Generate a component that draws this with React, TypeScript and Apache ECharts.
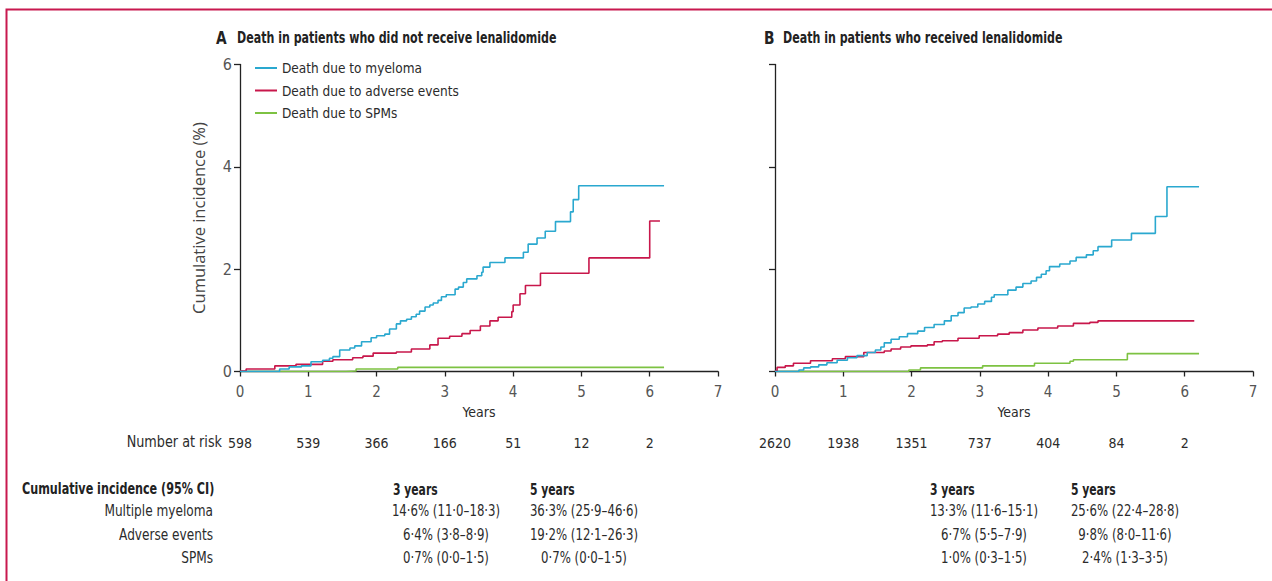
import React, { useEffect, useRef } from "react";
import * as echarts from "echarts";

// ---------- data ----------
const xTicks = [0, 1, 2, 3, 4, 5, 6, 7];
const yTicks = [0, 2, 4, 6];

const seriesNames = ["Death due to myeloma", "Death due to adverse events", "Death due to SPMs"];

// Panel A: patients who did not receive lenalidomide (step change points [years, %])
const myelomaA: [number, number][] = [
  [0, 0], [0.58, 0.05], [0.72, 0.09], [0.9, 0.11], [1.04, 0.19], [1.21, 0.22], [1.31, 0.26],
  [1.36, 0.29], [1.46, 0.42], [1.61, 0.46], [1.68, 0.5], [1.78, 0.58], [1.92, 0.66], [2.0, 0.7],
  [2.12, 0.73], [2.19, 0.83], [2.29, 0.93], [2.35, 0.99], [2.44, 1.02], [2.51, 1.07], [2.58, 1.12],
  [2.63, 1.18], [2.71, 1.26], [2.78, 1.3], [2.83, 1.34], [2.9, 1.39], [2.95, 1.46], [3.02, 1.5],
  [3.15, 1.61], [3.2, 1.65], [3.27, 1.74], [3.32, 1.81], [3.47, 1.87], [3.54, 1.94], [3.56, 2.04],
  [3.66, 2.13], [3.88, 2.22], [4.15, 2.33], [4.22, 2.49], [4.35, 2.61], [4.47, 2.74], [4.62, 2.93],
  [4.84, 3.12], [4.88, 3.36], [4.96, 3.63], [6.21, 3.63],
];
const adverseA: [number, number][] = [
  [0, 0.01], [0.09, 0.05], [0.51, 0.11], [0.82, 0.14], [1.21, 0.2], [1.36, 0.23], [1.65, 0.27],
  [1.8, 0.3], [1.95, 0.36], [2.29, 0.38], [2.51, 0.44], [2.78, 0.52], [2.9, 0.65], [3.07, 0.69],
  [3.25, 0.74], [3.37, 0.8], [3.52, 0.89], [3.66, 0.99], [3.78, 1.06], [3.98, 1.17], [4.0, 1.3],
  [4.1, 1.52], [4.18, 1.68], [4.4, 1.92], [5.11, 2.22], [6.0, 2.94], [6.15, 2.94],
];
const spmA: [number, number][] = [
  [0, 0], [1.55, 0.01], [1.7, 0.05], [2.31, 0.08], [6.21, 0.08],
];

// Panel B: patients who received lenalidomide
const myelomaB: [number, number][] = [
  [0, 0], [0.35, 0.03], [0.42, 0.07], [0.52, 0.09], [0.64, 0.13], [0.76, 0.17], [0.91, 0.22],
  [1.06, 0.27], [1.2, 0.31], [1.35, 0.37], [1.47, 0.42], [1.55, 0.48], [1.6, 0.56], [1.7, 0.63],
  [1.82, 0.68], [1.94, 0.74], [2.09, 0.79], [2.19, 0.86], [2.33, 0.92], [2.48, 0.99], [2.58, 1.09],
  [2.68, 1.15], [2.77, 1.24], [2.87, 1.26], [2.97, 1.32], [3.07, 1.37], [3.17, 1.45], [3.21, 1.5],
  [3.41, 1.59], [3.53, 1.65], [3.63, 1.72], [3.75, 1.77], [3.83, 1.84], [3.9, 1.9], [3.97, 1.97],
  [4.02, 2.05], [4.17, 2.1], [4.32, 2.16], [4.41, 2.23], [4.56, 2.28], [4.66, 2.36], [4.73, 2.44],
  [4.93, 2.57], [5.22, 2.7], [5.57, 3.03], [5.74, 3.61], [6.21, 3.61],
];
const adverseB: [number, number][] = [
  [0, 0.01], [0.03, 0.08], [0.15, 0.11], [0.27, 0.16], [0.52, 0.21], [0.84, 0.25], [1.03, 0.29],
  [1.3, 0.37], [1.6, 0.4], [1.7, 0.44], [1.84, 0.48], [1.99, 0.5], [2.23, 0.52], [2.33, 0.58],
  [2.45, 0.6], [2.68, 0.65], [2.99, 0.7], [3.26, 0.73], [3.43, 0.76], [3.63, 0.81], [3.85, 0.85],
  [4.14, 0.89], [4.37, 0.94], [4.61, 0.96], [4.73, 0.99], [6.14, 0.99],
];
const spmB: [number, number][] = [
  [0, 0], [1.96, 0.03], [2.13, 0.07], [3.04, 0.11], [3.8, 0.16], [4.32, 0.2], [4.37, 0.23],
  [5.16, 0.35], [6.21, 0.35],
];

const riskA = ["598", "539", "366", "166", "51", "12", "2"];
const riskB = ["2620", "1938", "1351", "737", "404", "84", "2"];

const titleA = "Death in patients who did not receive lenalidomide";
const titleB = "Death in patients who received lenalidomide";

const tableHeader = "Cumulative incidence (95% CI)";
const tableRows = ["Multiple myeloma", "Adverse events", "SPMs"];
const colHeaders = ["3 years", "5 years"];
const tableA3 = ["14·6% (11·0–18·3)", "6·4% (3·8–8·9)", "0·7% (0·0–1·5)"];
const tableA5 = ["36·3% (25·9–46·6)", "19·2% (12·1–26·3)", "0·7% (0·0–1·5)"];
const tableB3 = ["13·3% (11·6–15·1)", "6·7% (5·5–7·9)", "1·0% (0·3–1·5)"];
const tableB5 = ["25·6% (22·4–28·8)", "9·8% (8·0–11·6)", "2·4% (1·3–3·5)"];

// ---------- styles ----------
const COLORS = ["#2aa8cf", "#c8174b", "#7dc242"];
const FONT = "'Liberation Sans Narrow', 'DejaVu Sans Condensed', 'Arial Narrow', sans-serif";
const TXT = "#2b2b2b";

export default function App() {
  const ref = useRef<HTMLDivElement>(null);

  useEffect(() => {
    if (!ref.current) return;
    const chart = echarts.init(ref.current, undefined, { renderer: "svg" });

    const grids = [
      { left: 240, top: 64.5, width: 478, height: 307 },
      { left: 775, top: 64.5, width: 478, height: 307 },
    ];

    const mainX = (gi: number) => ({
      type: "value",
      gridIndex: gi,
      min: 0,
      max: 7,
      interval: 1,
      name: "Years",
      nameLocation: "middle",
      nameGap: 33,
      nameTextStyle: { fontFamily: FONT, fontSize: 14, color: TXT },
      axisLine: { onZero: false, lineStyle: { color: "#222", width: 1.3 } },
      axisTick: { show: true, length: 5, inside: false, lineStyle: { color: "#222", width: 1.3 } },
      axisLabel: { fontFamily: FONT, fontSize: 15, color: "#555", margin: 13 },
      splitLine: { show: false },
    });
    const riskX = (gi: number, labels: string[]) => ({
      type: "value",
      gridIndex: gi,
      position: "bottom",
      offset: 56,
      min: 0,
      max: 7,
      interval: 1,
      axisLine: { show: false },
      axisTick: { show: false },
      splitLine: { show: false },
      axisLabel: {
        fontFamily: FONT,
        fontSize: 14,
        color: TXT,
        formatter: (v: number) => labels[Math.round(v)] ?? "",
      },
    });
    const mainY = (gi: number, showLabels: boolean) => ({
      type: "value",
      gridIndex: gi,
      min: 0,
      max: 6,
      interval: 2,
      name: showLabels ? "Cumulative incidence (%)" : "",
      nameLocation: "middle",
      nameGap: 33,
      nameRotate: 90,
      nameTextStyle: { fontFamily: "'Open Sans', sans-serif", fontSize: 16.5, color: "#444" },
      axisLine: { show: true, lineStyle: { color: "#222", width: 1.3 } },
      axisTick: { show: true, length: 6, inside: false, lineStyle: { color: "#222", width: 1.3 } },
      axisLabel: {
        show: showLabels,
        fontFamily: FONT,
        fontSize: 16,
        color: "#555",
        margin: 8,
        formatter: (v: number) => (yTicks.includes(v) ? String(v) : ""),
      },
      splitLine: { show: false },
    });

    const panelData = [
      [myelomaA, adverseA, spmA],
      [myelomaB, adverseB, spmB],
    ];
    const series: any[] = [];
    panelData.forEach((sets, gi) => {
      sets.forEach((d, si) => {
        series.push({
          type: "line",
          name: seriesNames[si],
          xAxisIndex: gi * 2,
          yAxisIndex: gi,
          step: "end",
          data: d,
          showSymbol: false,
          symbol: "none",
          lineStyle: { color: COLORS[si], width: 1.6 },
          itemStyle: { color: COLORS[si] },
          z: 3 - si,
        });
      });
    });

    const graphics: any[] = [];
    const txt = (
      x: number,
      y: number,
      text: string,
      font: string,
      align: string,
      sx: number,
      fill = TXT
    ) => {
      graphics.push({
        type: "text",
        x,
        y,
        scaleX: sx,
        silent: true,
        style: { text, font, fill, align, verticalAlign: "middle" },
      });
    };
    // frame
    graphics.push({
      type: "polyline",
      shape: { points: [[6.5, 581], [6.5, 9.5], [1272, 9.5]] },
      style: { stroke: "#c8194f", lineWidth: 2, fill: null },
      silent: true,
    });
    // titles
    txt(216, 38, "A", `bold 17px ${FONT}`, "left", 0.9, "#222");
    txt(237, 38, titleA, `bold 15px ${FONT}`, "left", 0.82, "#222");
    txt(764, 38, "B", `bold 17px ${FONT}`, "left", 0.9, "#222");
    txt(783, 38, titleB, `bold 15px ${FONT}`, "left", 0.82, "#222");

    // number at risk label
    txt(222, 441, "Number at risk", `15px ${FONT}`, "right", 0.95);

    // table
    const rowY = [511, 535, 558];
    txt(22, 489, tableHeader, `bold 15px ${FONT}`, "left", 0.83, "#222");
    tableRows.forEach((r, i) => txt(213, rowY[i], r, `15px ${FONT}`, "right", 0.9));
    const column = (headerX: number, centerX: number, header: string, vals: string[]) => {
      txt(headerX, 489, header, `bold 15px ${FONT}`, "left", 0.8, "#222");
      vals.forEach((v, i) => txt(centerX, rowY[i], v, `15px ${FONT}`, "center", 0.87));
    };
    column(393, 446, colHeaders[0], tableA3);
    column(530, 584, colHeaders[1], tableA5);
    column(930, 984, colHeaders[0], tableB3);
    column(1071, 1125, colHeaders[1], tableB5);

    chart.setOption({
      animation: false,
      backgroundColor: "#ffffff",
      grid: grids,
      xAxis: [mainX(0), riskX(0, riskA), mainX(1), riskX(1, riskB)],
      yAxis: [mainY(0, true), mainY(1, false)],
      legend: {
        data: seriesNames,
        orient: "vertical",
        left: 250,
        top: 55,
        itemWidth: 22,
        itemHeight: 2,
        itemGap: 6.5,
        icon: "rect",
        textStyle: { fontFamily: FONT, fontSize: 13.5, color: TXT, lineHeight: 16 },
        selectedMode: false,
      },
      series,
      graphic: graphics,
    });

    return () => chart.dispose();
  }, []);

  return (
    <div
      ref={ref}
      style={{ position: "fixed", left: 0, top: 0, width: 1272, height: 581, background: "#fff" }}
    />
  );
}
